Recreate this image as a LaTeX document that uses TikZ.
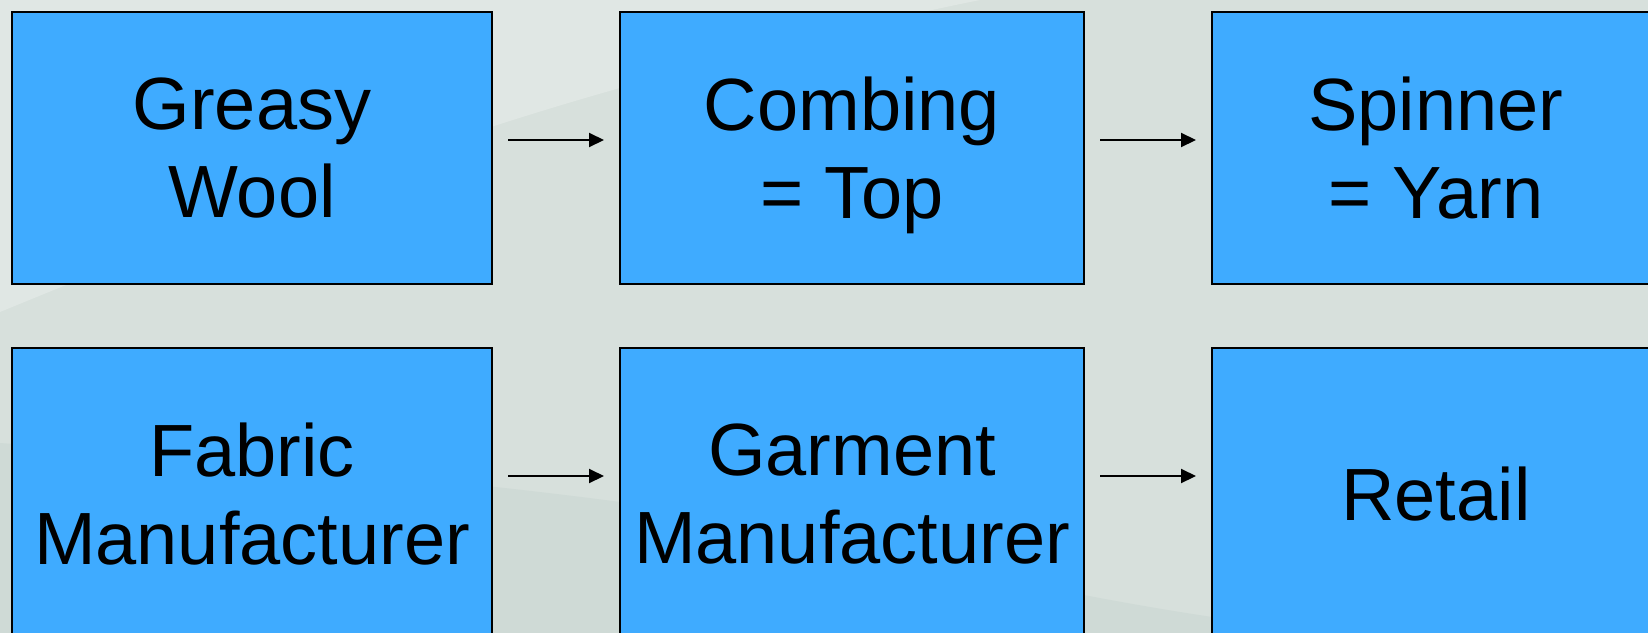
\documentclass[tikz,border=0pt]{standalone}
\usepackage{fontspec}
\setmainfont{Liberation Sans}
\usetikzlibrary{arrows.meta,calc}

\definecolor{bgbase}{RGB}{215,224,220}
\definecolor{bglight}{RGB}{224,231,228}
\definecolor{bgdark}{RGB}{207,218,214}
\definecolor{boxblue}{RGB}{63,171,255}

\tikzset{
  stage/.style={draw=black, line width=2pt, fill=boxblue, inner sep=0pt, outer sep=0pt,
    align=center, text depth=0pt, font=\fontsize{74}{88}\selectfont},
  toprow/.style={stage, minimum height=272pt},
  botrow/.style={stage, minimum height=292pt},
  flow/.style={line width=2pt, -{Triangle[length=15pt,width=14pt]}}
}

\begin{document}
\begin{tikzpicture}[x=1pt,y=-1pt]
  % backdrop with soft sweeps
  \useasboundingbox (0,0) rectangle (1648,632);
  \begin{scope}
    \clip (0,0) rectangle (1648,632);
    \fill[bgbase] (0,0) rectangle (1648,632);
    \fill[bglight] (0,0) -- (0,312)
      .. controls (200,230) and (400,150) .. (620,88)
      .. controls (760,50) and (880,20) .. (980,0) -- cycle;
    \fill[bgdark] (0,443)
      .. controls (300,465) and (500,486) .. (620,502)
      .. controls (850,540) and (1000,585) .. (1212,617)
      -- (1648,690) -- (1648,700) -- (0,700) -- cycle;
  \end{scope}

  % stages of the wool pipeline
  \node[toprow, minimum width=480pt] (greasy)  at (252,148)  {Greasy\\Wool};
  \node[toprow, minimum width=464pt] (combing) at (852,148)  {Combing\\= Top};
  \node[toprow, minimum width=448pt] (spinner) at (1436,148) {Spinner\\= Yarn};
  \node[botrow, minimum width=480pt] (fabric)  at (252,494)  {Fabric\\Manufacturer};
  \node[botrow, minimum width=464pt] (garment) at (852,494)  {Garment\\Manufacturer};
  \node[botrow, minimum width=448pt] (retail)  at (1436,494) {Retail};

  % flow arrows
  \draw[flow] ($(greasy.east)+(16,-8)$)   -- ($(combing.west)+(-16,-8)$);
  \draw[flow] ($(combing.east)+(16,-8)$)  -- ($(spinner.west)+(-16,-8)$);
  \draw[flow] ($(fabric.east)+(16,-18)$)  -- ($(garment.west)+(-16,-18)$);
  \draw[flow] ($(garment.east)+(16,-18)$) -- ($(retail.west)+(-16,-18)$);
\end{tikzpicture}
\end{document}
